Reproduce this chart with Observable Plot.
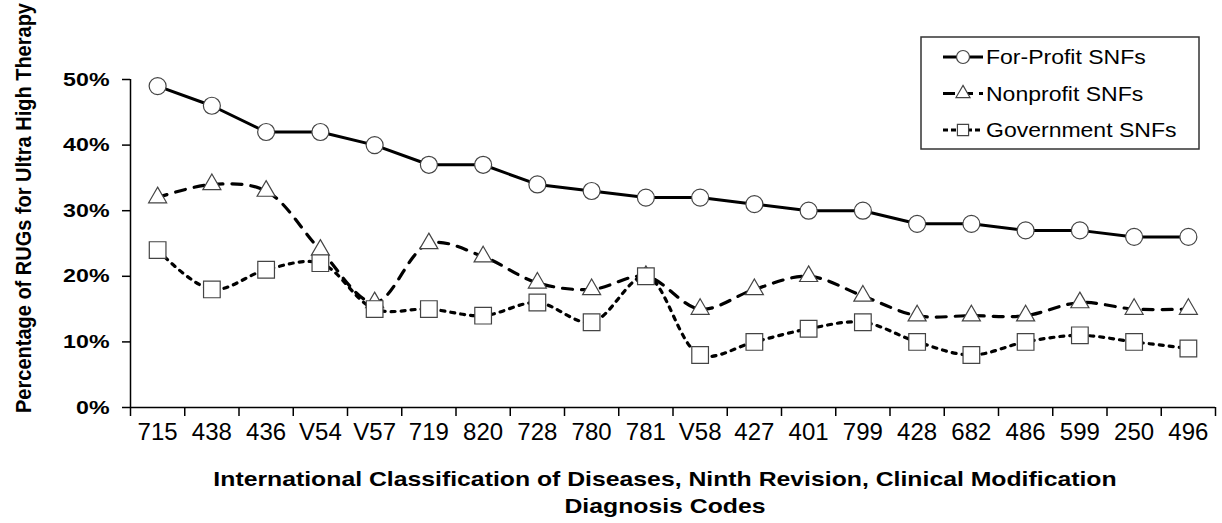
<!DOCTYPE html>
<html><head><meta charset="utf-8">
<script src="https://cdn.jsdelivr.net/npm/d3@7"></script>
<script src="https://cdn.jsdelivr.net/npm/@observablehq/plot@0.6"></script>
<style>
body{margin:0;background:#fff}
#chart{position:relative;width:1222px;height:523px}
</style>
</head><body><div id="chart"></div>
<script>
const codes = ["715","438","436","V54","V57","719","820","728","780","781","V58","427","401","799","428","682","486","599","250","496"];
const forProfit = [49,46,42,42,40,37,37,34,33,32,32,31,30,30,28,28,27,27,26,26];
const nonprofit = [32,34,33,24,16,25,23,19,18,20,15,18,20,17,14,14,14,16,15,15];
const government = [24,18,21,22,15,15,14,16,13,20,8,10,12,13,10,8,10,11,10,9];
const seriesNames = ["For-Profit SNFs","Nonprofit SNFs","Government SNFs"];
const yTicks = [0,10,20,30,40,50];
const xTitleLines = ["International Classification of Diseases, Ninth Revision, Clinical Modification","Diagnosis Codes"];
const yTitle = "Percentage of RUGs for Ultra High Therapy";

const toRows = (vals) => vals.map((v, i) => ({i, code: codes[i], v}));
const fp = toRows(forProfit), np = toRows(nonprofit), gv = toRows(government);

const W = 1222, H = 523;
const font = "'Liberation Sans', Arial, sans-serif";
const npDash = "10,9", gvDash = "4,6";

const chart = Plot.plot({
  width: W, height: H,
  marginLeft: 130, marginRight: 7, marginTop: 79, marginBottom: 116,
  style: {fontFamily: font, color: "#000", background: "#fff"},
  x: {type: "linear", domain: [-0.5, codes.length - 0.5]},
  y: {domain: [0, 50]},
  marks: [
    Plot.axisY({ticks: yTicks, tickFormat: d => d + "%", tickSize: 8, tickPadding: 13, fontSize: 19, fontWeight: "bold", label: null, strokeWidth: 1.5, className: "ylab"}),
    Plot.axisX({ticks: d3.range(codes.length), tickFormat: i => codes[i], tickSize: 0, tickPadding: 15, fontSize: 24, label: null}),
    Plot.axisX({ticks: d3.range(codes.length + 1).map(i => i - 0.5), tickFormat: () => "", tickSize: 9, label: null, strokeWidth: 1.5}),
    Plot.ruleX([-0.5], {y1: 0, y2: 50, strokeWidth: 1.5}),
    Plot.ruleY([0], {strokeWidth: 1.5}),
    Plot.line(fp, {x: "i", y: "v", stroke: "#000", strokeWidth: 3}),
    Plot.dot(fp, {x: "i", y: "v", symbol: "circle", r: 8.5, fill: "white", stroke: "#444", strokeWidth: 1.2}),
    Plot.line(np, {x: "i", y: "v", stroke: "#000", strokeWidth: 3.2, curve: "catmull-rom", strokeDasharray: npDash}),
    Plot.dot(np, {x: "i", y: "v", symbol: "triangle", r: 6.7, fill: "white", stroke: "#444", strokeWidth: 1.2}),
    Plot.line(gv, {x: "i", y: "v", stroke: "#000", strokeWidth: 3.2, curve: "catmull-rom", strokeDasharray: gvDash}),
    Plot.dot(gv, {x: "i", y: "v", symbol: "square", r: 9.4, fill: "white", stroke: "#444", strokeWidth: 1.2})
  ]
});
document.getElementById("chart").appendChild(chart);

const svg = d3.select(chart);
function stretch(sel, k) {
  sel.each(function() {
    const len = this.getComputedTextLength();
    if (len > 0) d3.select(this).attr("textLength", len * k).attr("lengthAdjust", "spacingAndGlyphs");
  });
}
// widen y tick labels to match the reference proportions
stretch(svg.selectAll(".ylab text"), 1.22);

// axis titles
xTitleLines.forEach((t, k) => {
  const el = svg.append("text").attr("font-family", font).attr("font-weight", "bold").attr("font-size", 21)
    .attr("text-anchor", "middle").attr("fill", "#000").attr("x", 665).attr("y", 486 + k * 27).text(t);
  stretch(el, 1.18);
});
svg.append("text").attr("font-family", font).attr("font-weight", "bold").attr("font-size", 20)
  .attr("text-anchor", "middle").attr("fill", "#000")
  .attr("transform", "translate(31,208) rotate(-90) scale(1,1.1)").text(yTitle);

// legend
const lg = svg.append("g");
lg.append("rect").attr("x", 921).attr("y", 37).attr("width", 278).attr("height", 112)
  .attr("fill", "white").attr("stroke", "#333").attr("stroke-width", 1.5);
const legendStyles = [
  {dash: null, sym: d3.symbolCircle, size: Math.PI * 6.5 * 6.5},
  {dash: "12,6", sym: d3.symbolTriangle, size: Math.PI * 5.2 * 5.2},
  {dash: "5,3", sym: d3.symbolSquare, size: Math.PI * 6.3 * 6.3}
];
seriesNames.forEach((name, k) => {
  const y = 57 + k * 36.5;
  const st = legendStyles[k];
  lg.append("line").attr("x1", 943).attr("x2", 983).attr("y1", y).attr("y2", y)
    .attr("stroke", "#000").attr("stroke-width", 3).attr("stroke-dasharray", st.dash);
  lg.append("path").attr("d", d3.symbol(st.sym, st.size)()).attr("transform", `translate(963,${y})`)
    .attr("fill", "white").attr("stroke", "#444").attr("stroke-width", 1.2);
  const t = lg.append("text").attr("x", 986).attr("y", y).attr("dy", "0.35em").attr("font-family", font)
    .attr("text-anchor", "start").attr("font-size", 20).attr("fill", "#000").text(name);
  stretch(t, 1.15);
});
</script>
</body></html>
